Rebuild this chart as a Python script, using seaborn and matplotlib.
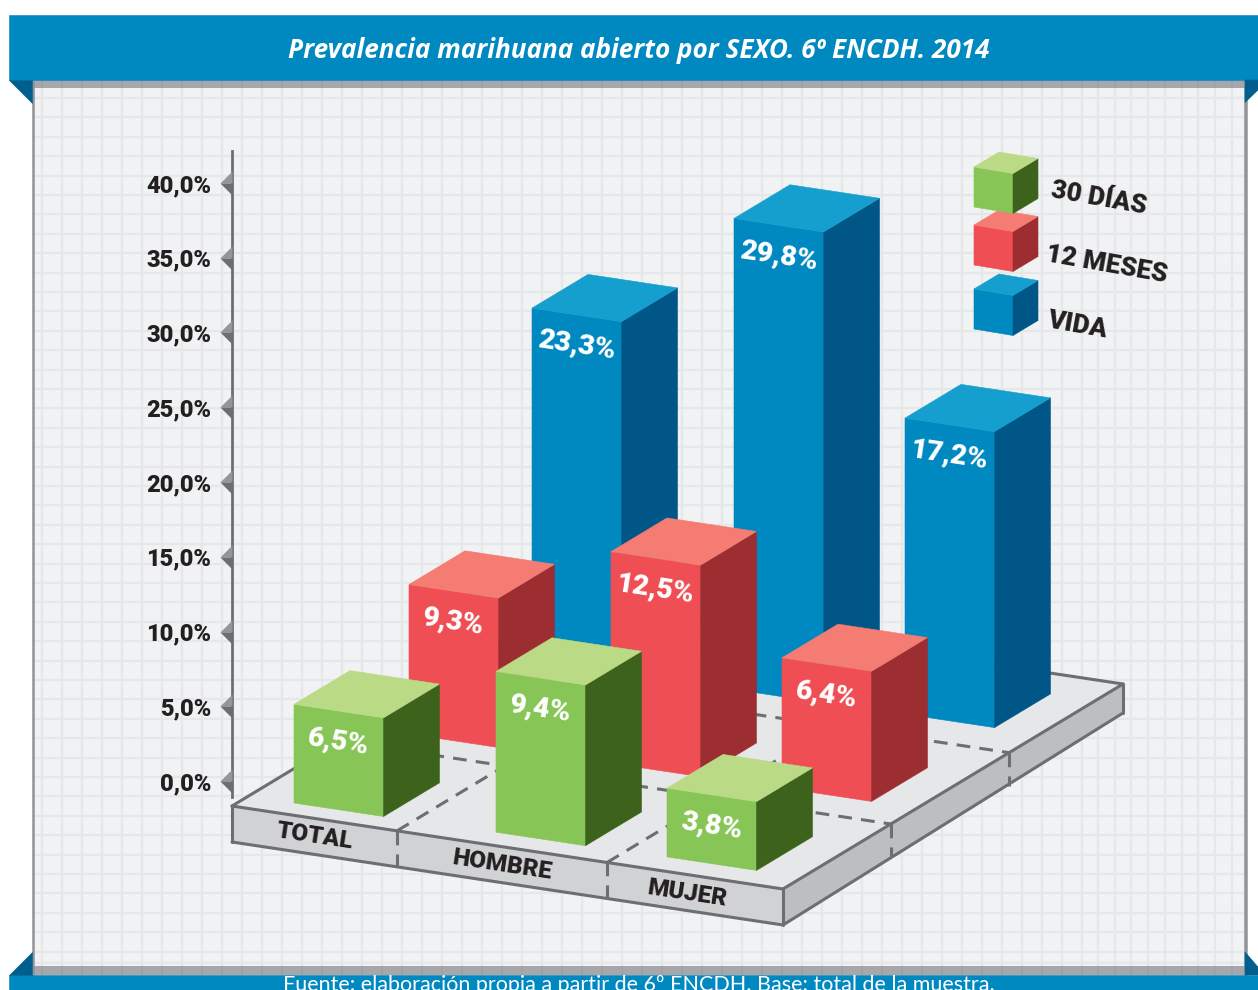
import numpy as np
import matplotlib
matplotlib.use('Agg')
import matplotlib.pyplot as plt
import seaborn as sns

# ===================[[ data ]]==================={{{

title = 'Prevalencia marihuana abierto por SEXO. 6º ENCDH. 2014'
source = 'Fuente: elaboración propia a partir de 6º ENCDH. Base: total de la muestra.'

categories = ['TOTAL', 'HOMBRE', 'MUJER']
series = ['30 DÍAS', '12 MESES', 'VIDA']

# labels printed on the bars
vals_30d = [6.5, 9.4, 3.8]
vals_12m = [9.3, 12.5, 6.4]
vals_vida = [23.3, 29.8, 17.2]

# the artwork is not to scale with its labels, so these are the drawn
# heights read against the left axis
alto_30d = [6.6, 10.75, 4.6]
alto_12m = [10.0, 14.15, 8.7]
alto_vida = [23.55, 31.5, 19.8]

y_ticks = [0, 5, 10, 15, 20, 25, 30, 35, 40]

# }}}

# ===================[[ layout ]]==================={{{

W, H = 1258, 990
Y0_PX, PX_PER_PCT = 781, 14.95   # where 0,0% sits, and px for one point of the axis


def yp(px):
    # page pixel -> axis percent
    return (Y0_PX - np.asarray(px, dtype=float)) / PX_PER_PCT


def pct(v):
    return f"{v:.1f}".replace('.', ',') + '%'


NAVY = '#0088c1'
FOLD = '#005f8e'
EDGE = '#6d6e71'
GRID = '#e6e7e9'
PANEL = '#f1f2f4'
INK = '#231f20'
SHADE = (0.33, 0.33, 0.35, 0.47)
ROT = -8.6

pal_front = sns.color_palette(['#86c556', '#ef4e54', '#0088c1'])
pal_top = sns.color_palette(['#bbda86', '#f47c72', '#149fce'])
pal_side = sns.color_palette(['#3c621b', '#9c2e31', '#005686'])

narrow = ['Liberation Sans Narrow', 'Roboto', 'DejaVu Sans']
HEAVY = 'black'

# floor positions of the bars, px from the first green one
cat_off = [0, 202, 373]
row_off = [0, 115, 238]
BAR0 = (294, 803)
BAR_W, BAR_D = (89.5, 13.5), (56, -33.7)

# }}}

sns.set_theme(style='white')

fig = plt.figure(figsize=(W / 100, H / 100), dpi=100, facecolor='white')
ax = fig.add_axes([0, 0, 1, 1])
ax.axis('off')


def face(xs, ys, color, z=1):
    # xs in px, ys in axis percent
    ax.fill(xs, ys, facecolor=color, edgecolor='none' if len(color) == 4 else color, linewidth=0.4, zorder=z)


def page(xs, ys, color, z=1):
    face(xs, yp(ys), color, z)


def box(x, y, h, fw, fd, c_front, c_top, c_side, z=5):
    # x, y = bottom left of the front face (px, percent); h = height in percent
    wx, wy = fw[0], fw[1] / PX_PER_PCT
    dx, dy = fd[0], fd[1] / PX_PER_PCT
    face([x, x + wx, x + wx, x], [y, y - wy, y - wy + h, y + h], c_front, z)
    face([x + wx, x + wx + dx, x + wx + dx, x + wx],
         [y - wy, y - wy - dy, y - wy - dy + h, y - wy + h], c_side, z)
    face([x, x + wx, x + wx + dx, x + dx],
         [y + h, y - wy + h, y - wy - dy + h, y - dy + h], c_top, z)


# =================[[ background ]]================{{{

page([33, 1245, 1245, 33], [80, 80, 975, 975], PANEL, 0)
for gx in list(np.arange(42, 1083, 20)) + list(np.arange(1098, 1240, 16.7)):
    ax.plot([gx, gx], yp([80, 975]), color=GRID, lw=1.7, zorder=0.5)
for gy in list(np.arange(98, 955, 19.4)) + [963]:
    ax.plot([33, 1245], yp([gy, gy]), color=GRID, lw=1.7, zorder=0.5)

page([33, 1245, 1245, 33], [80, 80, 88, 88], SHADE, 0.7)
page([33, 1245, 1245, 33], [966, 966, 975, 975], SHADE, 0.7)
page([32, 34, 34, 32], [80, 80, 975, 975], '#939598', 0.95)
page([1244, 1246.5, 1246.5, 1244], [80, 80, 975, 975], '#939598', 0.95)

page([9, W, W, 9], [15, 15, 80, 80], NAVY, 2)
page([9, W, W, 9], [975, 975, H, H], NAVY, 2)
page([9, 32, 32], [80, 80, 102.5], FOLD, 2)
page([1245, W, W, 1245], [80, 80, 90, 102.5], FOLD, 2)
page([9, 32, 32], [974.5, 974.5, 952], FOLD, 2)
page([1245, W, W, 1245], [975, 975, 967, 952], FOLD, 2)

ax.text(638.5, yp(51), title, color='white', fontsize=18.85, fontweight='bold', fontstyle='italic',
        family=['Open Sans', 'DejaVu Sans'], ha='center', va='center', zorder=3)
ax.text(639, yp(991), source, color='white', fontsize=15.5, family=['Lato', 'DejaVu Sans'],
        ha='center', va='baseline', zorder=3)

# }}}

# ====================[[ floor ]]==================={{{

FL = np.array([232, 806.0])
FW = np.array([551, 83.0])
FD = np.array([340, -205.0])
THICK = 36


def fl(a, b):
    # a, b = 0..1 along the front and the side of the floor
    return FL + a * FW + b * FD


c = [fl(0, 0), fl(1, 0), fl(1, 1), fl(0, 1)]
page([p[0] for p in c], [p[1] for p in c], '#e6e7e9', 1)
page([c[0][0], c[1][0], c[1][0], c[0][0]], [c[0][1], c[1][1], c[1][1] + THICK, c[0][1] + THICK], '#d1d2d4', 1)
page([c[1][0], c[2][0], c[2][0], c[1][0]], [c[1][1], c[2][1], c[2][1] + 29, c[1][1] + THICK], '#bcbec0', 1)

for p, q in [(c[3], c[0]), (c[0], c[1]), (c[1], c[2]), (c[2], c[3])]:
    ax.plot([p[0], q[0]], yp([p[1], q[1]]), color=EDGE, lw=2.2, zorder=1.5, solid_capstyle='round')
low = [c[0] + (0, THICK), c[1] + (0, THICK), c[2] + (0, 29)]
ax.plot([p[0] for p in low], yp([p[1] for p in low]), color=EDGE, lw=2.2, zorder=1.5)
for p, q in [(c[0], low[0]), (c[1], low[1]), (c[2], low[2])]:
    ax.plot([p[0], q[0]], yp([p[1], q[1]]), color=EDGE, lw=2.2, zorder=1.5)

dash = dict(color=EDGE, lw=2.2, ls=(0, (4.5, 3)), zorder=1.6)
for a in [165 / 551, 375 / 551]:
    p, q = fl(a, 0), fl(a, 1)
    ax.plot([p[0], q[0]], yp([p[1], q[1]]), **dash)
    ax.plot([p[0], p[0]], yp([p[1], p[1] + THICK]), **dash)
for b in [0.317, 0.665]:
    p, q = fl(0, b), fl(1, b)
    ax.plot([p[0], q[0]], yp([p[1], q[1]]), **dash)
    ax.plot([q[0], q[0]], yp([q[1], q[1] + 33]), **dash)

cat_edges = [0, 165 / 551, 375 / 551, 1]
for i, name in enumerate(categories):
    p = fl((cat_edges[i] + cat_edges[i + 1]) / 2, 0)
    ax.text(p[0] - (8 if i == 2 else 0), yp(p[1] + 18), name, color=INK, fontsize=17.5, fontweight=HEAVY,
            family=narrow, rotation=ROT, rotation_mode='anchor', ha='center', va='center', zorder=2)

# }}}

# ====================[[ bars ]]===================={{{

all_vals = [vals_30d, vals_12m, vals_vida]
all_alto = [alto_30d, alto_12m, alto_vida]

# back row first so the front ones cover it
for r in [2, 1, 0]:
    for i in range(len(categories)):
        bx = BAR0[0] + cat_off[i] + row_off[r]
        by = yp(BAR0[1] + cat_off[i] * 0.1445 - row_off[r] * 0.6)
        h = all_alto[r][i]
        z = 5 + (2 - r)
        box(bx, by, h, BAR_W, BAR_D, pal_front[r], pal_top[r], pal_side[r], z)
        ax.text(bx + BAR_W[0] / 2, by + h - 37 / PX_PER_PCT, pct(all_vals[r][i]), color='white',
                fontsize=20.5, fontweight=HEAVY, family=narrow, rotation=ROT, rotation_mode='anchor',
                ha='center', va='center', zorder=z + 0.5)

# }}}

# ===================[[ legend ]]==================={{{

leg_y = [207, 265, 329]
leg_txt = [(1099, 198), (1107, 265), (1077, 325)]
for r in [2, 1, 0]:
    box(974, yp(leg_y[r]), 40 / PX_PER_PCT, (39, 6.5), (25, -15), pal_front[r], pal_top[r], pal_side[r], 10 + (2 - r))
    ax.text(leg_txt[r][0], yp(leg_txt[r][1]), series[r], color=INK, fontsize=19, fontweight=HEAVY,
            family=narrow, rotation=-10, rotation_mode='anchor', ha='center', va='center', zorder=12)

# }}}

ax.set_xlim(0, W)
ax.set_ylim(yp(H), yp(0))

# ===================[[ y axis ]]==================={{{

ax_y = fig.add_axes([232 / W, (H - 797) / H, 100 / W, (797 - 151) / H], facecolor='none')
sns.scatterplot(x=[0] * len(y_ticks), y=y_ticks, marker=[(-1, 0), (0, 1), (0, 0)], s=300,
                color='#939598', linewidth=0, clip_on=False, ax=ax_y, zorder=4)
sns.scatterplot(x=[0] * len(y_ticks), y=y_ticks, marker=[(-1, 0), (0, -1), (0, 0)], s=300,
                color=EDGE, linewidth=0, clip_on=False, ax=ax_y, zorder=4)
ax_y.set_xlim(0, 1)
ax_y.set_ylim(yp(797), yp(151))
ax_y.set_xticks([])
ax_y.set_yticks(y_ticks)
ax_y.set_yticklabels([pct(v) for v in y_ticks], color=INK, fontsize=17, fontweight=HEAVY, family=narrow)
ax_y.tick_params(axis='y', length=0, pad=15)
sns.despine(ax=ax_y, bottom=True)
ax_y.spines['left'].set_color(EDGE)
ax_y.spines['left'].set_linewidth(2)

# }}}

fig.savefig('out.png', dpi=100)
plt.close(fig)
